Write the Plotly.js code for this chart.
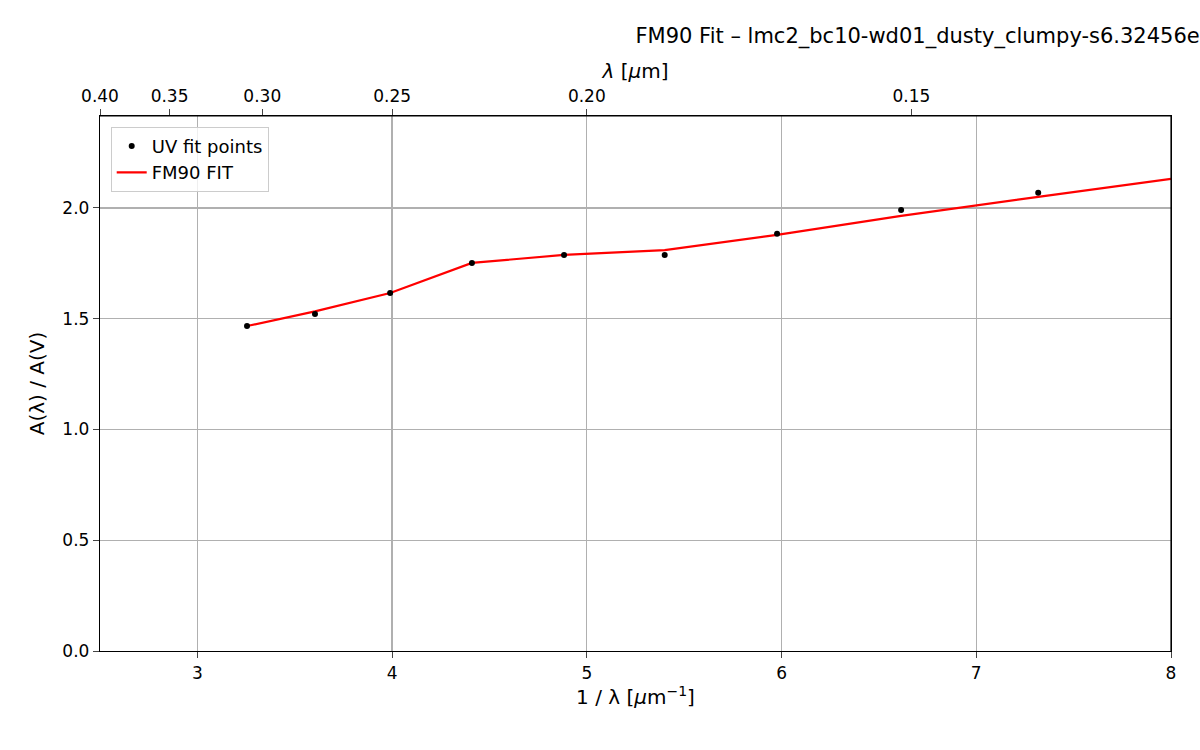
<!DOCTYPE html>
<html>
<head>
<meta charset="utf-8">
<script src="https://cdn.plot.ly/plotly-3.0.1.min.js"></script>
<style>body{margin:0;background:#fff}</style>
</head>
<body>
<div id="plot" style="width:1200px;height:750px"></div>
<script>
// UV fit points (1/lambda in um^-1, A(lambda)/A(V))
const pointX = [3.255, 3.604, 3.99, 4.41, 4.883, 5.40, 5.977, 6.614, 7.318];
const pointY = [1.467, 1.521, 1.616, 1.752, 1.788, 1.788, 1.883, 1.991, 2.068];
// FM90 fit curve
const fitX = [3.255, 3.604, 3.99, 4.41, 4.883, 5.40, 5.977, 6.614, 7.318, 8.0];
const fitY = [1.467, 1.533, 1.616, 1.752, 1.788, 1.810, 1.878, 1.964, 2.050, 2.131];
// top axis wavelength ticks (um)
const lamTicks = [0.40, 0.35, 0.30, 0.25, 0.20, 0.15];

const font = {family: 'DejaVu Sans', size: 17, color: '#000'};

const traces = [
  {x: fitX, y: fitY, mode: 'lines', name: 'FM90 FIT',
   line: {color: '#ff0000', width: 2.2}},
  {x: pointX, y: pointY, mode: 'markers', name: 'UV fit points',
   marker: {color: '#000', size: 6}},
  {x: [2.5], y: [0], xaxis: 'x2', mode: 'markers', showlegend: false,
   marker: {opacity: 0}, hoverinfo: 'skip'}
];

const layout = {
  width: 1200, height: 750,
  margin: {l: 100, r: 29, t: 116, b: 99},
  font: font,
  paper_bgcolor: '#fff', plot_bgcolor: '#fff',
  title: {text: 'FM90 Fit – lmc2_bc10-wd01_dusty_clumpy-s6.32456e+14-t10.0-m0.1-a1_global_lum.table.fits',
          xref: 'paper', x: -54 / 1071, xanchor: 'left', y: 0.953, yanchor: 'middle',
          font: {family: 'DejaVu Sans', size: 21}},
  xaxis: {range: [2.5, 8], tickvals: [3, 4, 5, 6, 7, 8],
          title: {text: '1 / λ [<i>μ</i>m<sup>−1</sup>]', standoff: 8},
          showgrid: true, gridcolor: '#b0b0b0', gridwidth: 1.2,
          showline: true, linecolor: '#000', linewidth: 1.2, mirror: false,
          ticks: 'outside', ticklen: 6, zeroline: false},
  xaxis2: {range: [2.5, 8], overlaying: 'x', side: 'top', anchor: 'y',
           tickvals: lamTicks.map(l => 1 / l),
           ticktext: lamTicks.map(l => l.toFixed(2)),
           title: {text: '<i>λ</i> [<i>μ</i>m]', standoff: 2},
           showgrid: false, showline: true, linecolor: '#000', linewidth: 1.2,
           ticks: 'outside', ticklen: 6, zeroline: false},
  yaxis: {range: [0, 2.415], tickvals: [0, 0.5, 1, 1.5, 2],
          ticktext: ['0.0', '0.5', '1.0', '1.5', '2.0'],
          title: {text: 'A(λ) / A(V)', standoff: 12},
          showgrid: true, gridcolor: '#b0b0b0', gridwidth: 1.2,
          showline: true, linecolor: '#000', linewidth: 1.2, mirror: true,
          ticks: 'outside', ticklen: 6, zeroline: false},
  shapes: [{type: 'line', xref: 'paper', yref: 'paper', x0: 1, x1: 1, y0: 0, y1: 1,
            line: {color: '#000', width: 1.2}},
           {type: 'line', xref: 'paper', yref: 'paper', x0: 0, x1: 1, y0: 1, y1: 1,
            line: {color: '#000', width: 1.2}}],
  legend: {x: 0.01, y: 0.98, xanchor: 'left', yanchor: 'top',
           bgcolor: 'rgba(255,255,255,0.8)', bordercolor: '#ccc', borderwidth: 1,
           traceorder: 'reversed', font: {family: 'DejaVu Sans', size: 18}},
  showlegend: true
};

Plotly.newPlot('plot', traces, layout, {staticPlot: true});
</script>
</body>
</html>
